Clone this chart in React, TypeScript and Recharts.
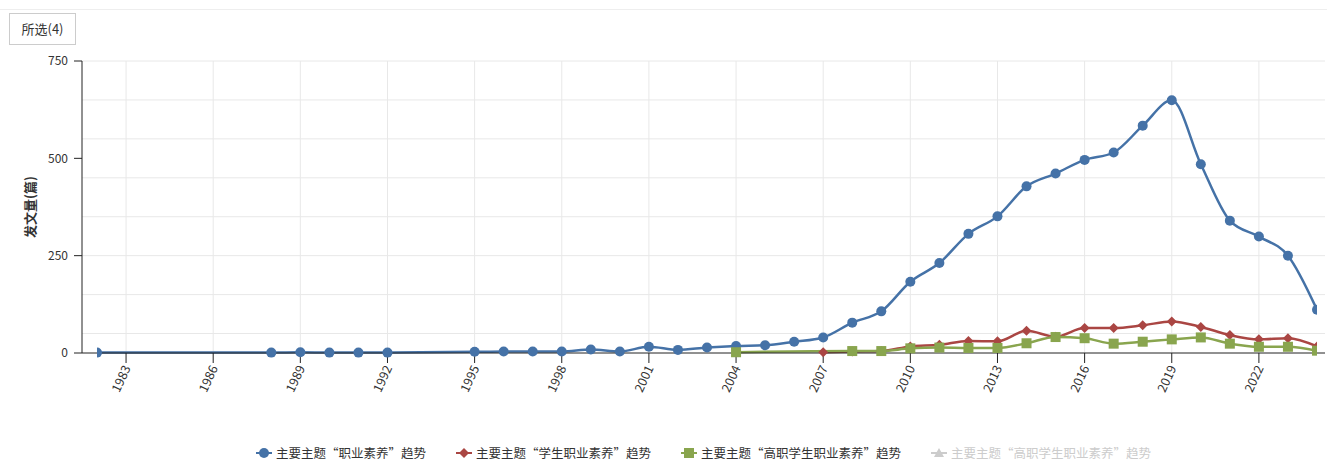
import React from "react";
import { CartesianGrid, Line, LineChart, XAxis, YAxis } from "recharts";

// 主要主题“职业素养”趋势
const zhiyeYears = [
  1982, 1988, 1989, 1990, 1991, 1992, 1995, 1996, 1997, 1998, 1999, 2000, 2001, 2002, 2003,
  2004, 2005, 2006, 2007, 2008, 2009, 2010, 2011, 2012, 2013, 2014, 2015, 2016, 2017, 2018,
  2019, 2020, 2021, 2022, 2023, 2024,
];
const zhiyeValues = [
  1, 1, 2, 1, 1, 1, 3, 4, 4, 4, 9, 4, 16, 8, 14, 18, 20, 29, 40, 78, 107, 183, 231, 306, 351,
  428, 461, 496, 515, 584, 649, 485, 340, 299, 250, 111,
];

// 主要主题“学生职业素养”趋势
const xueshengYears = [
  2007, 2008, 2009, 2010, 2011, 2012, 2013, 2014, 2015, 2016, 2017, 2018, 2019, 2020, 2021,
  2022, 2023, 2024,
];
const xueshengValues = [2, 4, 5, 17, 21, 31, 30, 57, 42, 64, 64, 71, 81, 67, 46, 35, 38, 17];

// 主要主题“高职学生职业素养”趋势
const gaozhiYears = [
  2004, 2008, 2009, 2010, 2011, 2012, 2013, 2014, 2015, 2016, 2017, 2018, 2019, 2020, 2021,
  2022, 2023, 2024,
];
const gaozhiValues = [2, 5, 5, 12, 14, 13, 13, 25, 41, 38, 24, 29, 35, 40, 24, 16, 16, 6];

const xTicks = [1983, 1986, 1989, 1992, 1995, 1998, 2001, 2004, 2007, 2010, 2013, 2016, 2019, 2022];
const yTicks = [0, 250, 500, 750];
const yGridValues = [
  0, 50, 100, 150, 200, 250, 300, 350, 400, 450, 500, 550, 600, 650, 700, 750,
];

const toPoints = (years: number[], values: number[]) =>
  years.map((year, i) => ({ year, value: values[i] }));

const FONT = '"Noto Sans CJK SC", "Noto Sans", sans-serif';

type Shape = "circle" | "diamond" | "square" | "triangle";

const series = [
  { name: "主要主题“职业素养”趋势", color: "#4572A7", shape: "circle" as Shape, data: toPoints(zhiyeYears, zhiyeValues), visible: true },
  { name: "主要主题“学生职业素养”趋势", color: "#AA4643", shape: "diamond" as Shape, data: toPoints(xueshengYears, xueshengValues), visible: true },
  { name: "主要主题“高职学生职业素养”趋势", color: "#89A54E", shape: "square" as Shape, data: toPoints(gaozhiYears, gaozhiValues), visible: true },
  { name: "主要主题“高职学生职业素养”趋势", color: "#C0C0C0", shape: "triangle" as Shape, data: [], visible: false },
];

function Marker({ cx, cy, shape, color }: { cx: number; cy: number; shape: Shape; color: string }) {
  if (cx == null || cy == null) return null;
  if (shape === "circle") return <circle cx={cx} cy={cy} r={5} fill={color} />;
  if (shape === "diamond")
    return <path d={`M${cx},${cy - 5}L${cx + 5},${cy}L${cx},${cy + 5}L${cx - 5},${cy}Z`} fill={color} />;
  if (shape === "square") return <rect x={cx - 5} y={cy - 5} width={10} height={10} fill={color} />;
  return <path d={`M${cx},${cy - 5}L${cx + 5},${cy + 4}L${cx - 5},${cy + 4}Z`} fill={color} />;
}

function YearTick(props: any) {
  const { x, y, payload } = props;
  const ax = x + 5;
  const ay = y + 3;
  return (
    <text
      x={ax}
      y={ay}
      textAnchor="end"
      fontSize={12.5}
      fill="#333"
      fontFamily={FONT}
      transform={`rotate(-65 ${ax} ${ay})`}
    >
      {payload.value}
    </text>
  );
}

export default function App() {
  return (
    <div style={{ position: "absolute", left: 0, top: 0, width: 1327, height: 463, background: "#fff", fontFamily: FONT }}>
      <div style={{ position: "absolute", left: 0, top: 9, width: 1327, borderTop: "1px solid #eee" }} />
      <div
        style={{
          position: "absolute",
          left: 9,
          top: 13,
          width: 65,
          height: 30,
          border: "1px solid #ccc",
          fontSize: 13,
          color: "#333",
          lineHeight: "30px",
          textAlign: "center",
        }}
      >
        所选(4)
      </div>
      <div style={{ position: "absolute", left: 0, top: 0 }}>
        <LineChart width={1327} height={463} margin={{ top: 61, right: 2, left: 0, bottom: 40 }}>
          <CartesianGrid stroke="#e8e8e8" horizontalValues={yGridValues} verticalValues={xTicks} />
          <XAxis
            type="number"
            dataKey="year"
            domain={[1982, 2024]}
            ticks={xTicks}
            allowDataOverflow
            padding={{ left: 15, right: 8 }}
            height={70}
            tickSize={10}
            stroke="#222"
            tickLine={{ stroke: "#222" }}
            tick={<YearTick />}
            interval={0}
          />
          <YAxis
            type="number"
            domain={[0, 750]}
            ticks={yTicks}
            width={82}
            tickSize={8}
            stroke="#222"
            tick={{ fontSize: 12, fill: "#333", fontFamily: FONT, dx: -4 }}
            label={{
              value: "发文量(篇)",
              angle: -90,
              position: "insideLeft",
              offset: 30,
              style: { fontSize: 13, fontWeight: "bold", fill: "#333", fontFamily: FONT, textAnchor: "middle" },
            }}
          />
          {series
            .filter((s) => s.visible)
            .map((s, i) => (
              <Line
                key={i}
                data={s.data}
                dataKey="value"
                name={s.name}
                type="monotone"
                stroke={s.color}
                strokeWidth={2.5}
                isAnimationActive={false}
                dot={(p: any) => <Marker key={p.index} cx={p.cx} cy={p.cy} shape={s.shape} color={s.color} />}
                activeDot={false}
              />
            ))}
        </LineChart>
      </div>
      <div
        style={{
          position: "absolute",
          left: 82,
          width: 1243,
          top: 443,
          display: "flex",
          justifyContent: "center",
          gap: 30,
          fontSize: 12.5,
        }}
      >
        {series.map((s, i) => (
          <div key={i} style={{ display: "flex", alignItems: "center", color: s.visible ? "#333" : "#ccc" }}>
            <svg width={16} height={12} style={{ marginRight: 4 }}>
              <line x1={0} y1={6} x2={16} y2={6} stroke={s.visible ? s.color : "#ccc"} strokeWidth={2} />
              <Marker cx={8} cy={6} shape={s.shape} color={s.visible ? s.color : "#ccc"} />
            </svg>
            <span>{s.name}</span>
          </div>
        ))}
      </div>
    </div>
  );
}
